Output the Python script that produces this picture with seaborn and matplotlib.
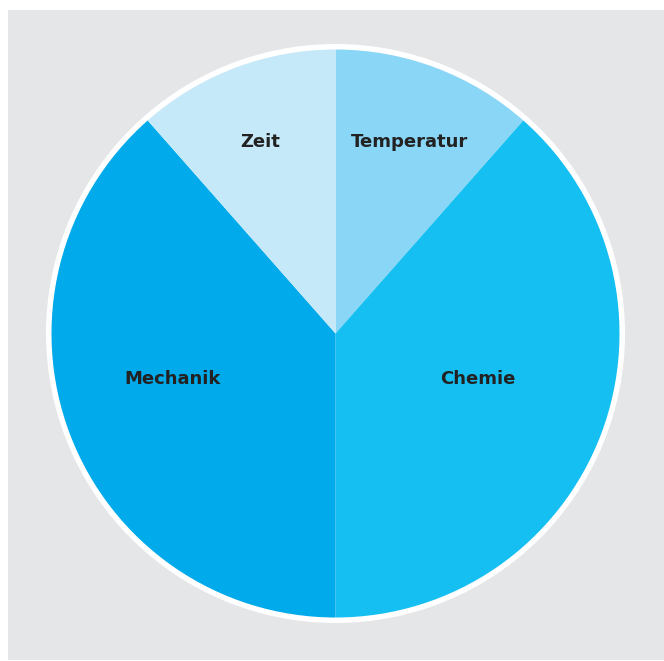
import matplotlib
matplotlib.use("Agg")
import matplotlib.pyplot as plt
from matplotlib.patches import Circle
import seaborn as sns

# data (clockwise from 12 o'clock)
labels = ["Temperatur", "Chemie", "Mechanik", "Zeit"]
shares = [11.5, 38.5, 38.5, 11.5]
colors = ["#8ad6f6", "#16bff1", "#00aaeb", "#c6e9f9"]

sns.set_theme(style="white")
plt.rcParams['font.family'] = ['DejaVu Sans']

W, H = 664, 661
fig = plt.figure(figsize=(W / 100, H / 100), dpi=100, facecolor="white")

# grey panel behind the pie
bg = fig.add_axes([8 / W, 1 / H, 1 - 8 / W, 1 - 11 / H], zorder=0)
bg.set_facecolor("#e5e6e8")
bg.set_xticks([])
bg.set_yticks([])
for s in bg.spines.values():
    s.set_visible(False)

cx, cy, r, half = 335.5, H - 333.5, 284, 300
ax = fig.add_axes([(cx - half) / W, (cy - half) / H, 2 * half / W, 2 * half / H], zorder=1)
ax.set_facecolor("none")
ax.add_patch(Circle((0, 0), 289.5 / r, facecolor="white", edgecolor="none", zorder=0))

wedges, texts = ax.pie(
    shares, labels=labels, colors=colors, startangle=90, counterclock=False,
    labeldistance=0.72, wedgeprops=dict(edgecolor="none", linewidth=0),
    textprops=dict(fontsize=13, fontweight="bold", color="#222222",
                   ha="center", va="center"),
)
# big slices carry their labels lower, near the middle line
texts[0].set_position((0.26, 0.673))
texts[3].set_position((-0.265, 0.673))
texts[1].set_position((0.50, -0.16))
texts[2].set_position((-0.575, -0.16))

ax.set_xlim(-half / r, half / r)
ax.set_ylim(-half / r, half / r)
ax.set_aspect("equal")
ax.axis("off")

fig.savefig("out.png", dpi=100, facecolor="white")
